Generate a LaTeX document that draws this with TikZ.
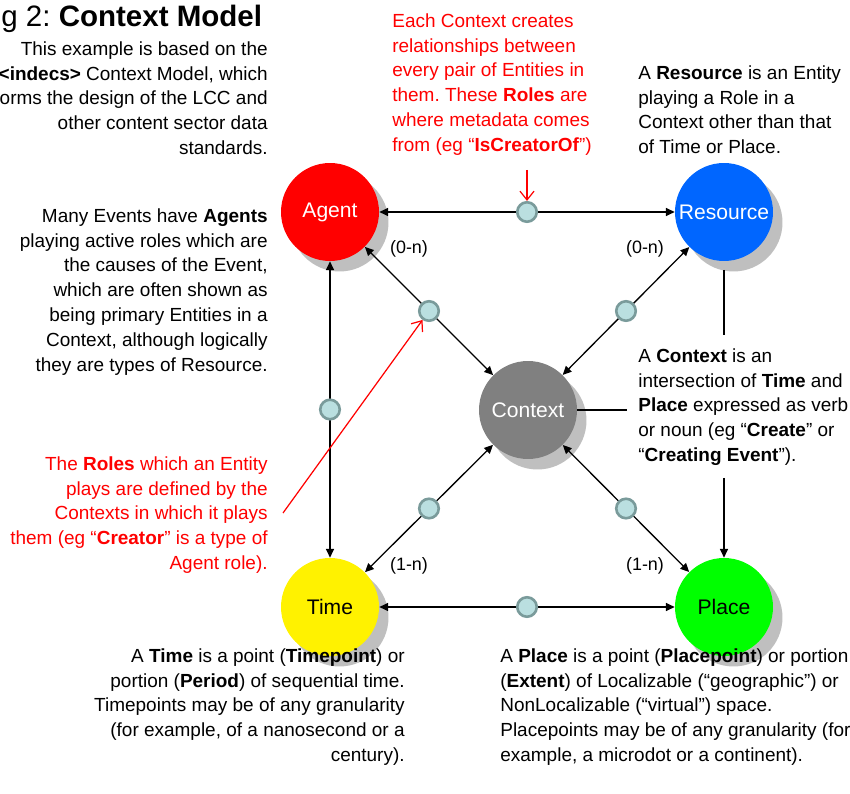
\documentclass[tikz,border=0pt]{standalone}
\usepackage{fontspec}
\setmainfont{Liberation Sans}
\usetikzlibrary{positioning,arrows.meta,shadows}

\definecolor{dotfill}{RGB}{186,223,224}
\definecolor{dotline}{RGB}{122,155,155}
\definecolor{resblue}{RGB}{0,102,255}
\frenchspacing

\begin{document}
\begin{tikzpicture}[x=0.02cm, y=-0.02cm,
    entity/.style={circle, minimum size=1.96cm, inner sep=0pt, font=\fontsize{12}{13}\selectfont,
        drop shadow={shadow xshift=0.19cm, shadow yshift=-0.21cm, fill=gray!50, opacity=1}},
    role/.style={circle, draw=dotline, fill=dotfill, line width=1.5pt, minimum size=0.39cm, inner sep=0pt},
    link/.style={{Triangle[length=5pt,width=4.6pt]}-{Triangle[length=5pt,width=4.6pt]}, line width=0.75pt},
    note/.style={font=\fontsize{10.8}{14.2}\selectfont, inner sep=0pt},
    card/.style={font=\fontsize{10.2}{12}\selectfont},
    pointer/.style={-{Straight Barb[length=5pt,width=8pt]}, red, line width=0.7pt},
]
\useasboundingbox (0,0) rectangle (850,794);

\node[entity, fill=red, text=white] (agent) at (330,212) {Agent};
\node[entity, fill=resblue, text=white] (resource) at (724,212) {Resource};
\node[entity, fill=gray, text=white] (context) at (528,410) {Context};
\node[entity, fill=yellow] (time) at (330,607) {Time};
\node[entity, fill=green] (place) at (724,607) {Place};

\draw[link] (agent) -- (resource) node[role, midway] (rAR) {};
\draw[link] (agent) -- (time) node[role, midway] (rAT) {};
\draw[link] (agent) -- (context) node[role, midway] (rAC) {};
\draw[link] (resource) -- (context) node[role, midway] (rRC) {};
\draw[link] (time) -- (context) node[role, midway] (rTC) {};
\draw[link] (place) -- (context) node[role, midway] (rPC) {};
\draw[link] (time) -- (place) node[role, midway] (rTP) {};

\node[card] (cAgent) at (409,249) {(0-n)};
\node[card] (cRes) at (645,249) {(0-n)};
\node[card] (cTime) at (409,566) {(1-n)};
\node[card] (cPlace) at (645,566) {(1-n)};

\node[font=\fontsize{16.8}{20}\selectfont, inner sep=0pt, anchor=base west] (title) at (1,27) {g 2: \textbf{Context Model}};

\node[note, align=right, anchor=north east] (intro) at (268,41) {This example is based on the\\
    \textbf{<indecs>} Context Model, which\\ orms the design of the LCC and\\ other content sector data\\ standards.};
\node[note, align=right, anchor=north east] (agentnote) at (268,208) {Many Events have \textbf{Agents}\\
    playing active roles which are\\ the causes of the Event,\\ which are often shown as\\
    being primary Entities in a\\ Context, although logically\\ they are types of Resource.};
\node[note, red, align=right, anchor=north east] (rolenote) at (268,456) {The \textbf{Roles} which an Entity\\
    plays are defined by the\\ Contexts in which it plays\\ them (eg “\textbf{Creator}” is a type of\\ Agent role).};
\node[note, red, align=left, anchor=north west] (pairnote) at (392,13) {Each Context creates\\
    relationships between\\ every pair of Entities in\\ them. These \textbf{Roles} are\\
    where metadata comes\\ from (eg “\textbf{IsCreatorOf}”)};
\node[note, align=left, anchor=north west] (resnote) at (638,65) {A \textbf{Resource} is an Entity\\
    playing a Role in a\\ Context other than that\\ of Time or Place.};
\node[note, align=left, anchor=north west] (ctxnote) at (638,348) {A \textbf{Context} is an\\
    intersection of \textbf{Time} and\\ \textbf{Place} expressed as verb\\
    or noun (eg “\textbf{Create}” or\\ “\textbf{Creating Event}”).};
\node[note, align=right, anchor=north east] (timenote) at (405,648) {A \textbf{Time} is a point (\textbf{Timepoint}) or\\
    portion (\textbf{Period}) of sequential time.\\ Timepoints may be of any granularity\\
    (for example, of a nanosecond or a\\ century).};
\node[note, align=left, anchor=north west] (placenote) at (500,648) {A \textbf{Place} is a point (\textbf{Placepoint}) or portion\\
    (\textbf{Extent}) of Localizable (“geographic”) or\\ NonLocalizable (“virtual”) space.\\
    Placepoints may be of any granularity (for\\ example, a microdot or a continent).};

% leaders to the Context note
\coordinate (resfoot) at (724,270);
\coordinate (ctxtop) at (724,335);
\coordinate (ctxleft) at (627,410);
\coordinate (ctxfoot) at (724,478);
\draw[line width=0.75pt] (resfoot) -- (ctxtop);
\draw[line width=0.75pt] (context) -- (ctxleft);
\draw[line width=0.75pt, -{Triangle[length=5pt,width=4.6pt]}] (ctxfoot) -- (place);

% red pointers to the roles
\coordinate (pairtip) at (527,170);
\coordinate (roletail) at (283,513);
\draw[pointer] (pairtip) -- (rAR);
\draw[pointer] (roletail) -- (rAC);
\end{tikzpicture}
\end{document}
